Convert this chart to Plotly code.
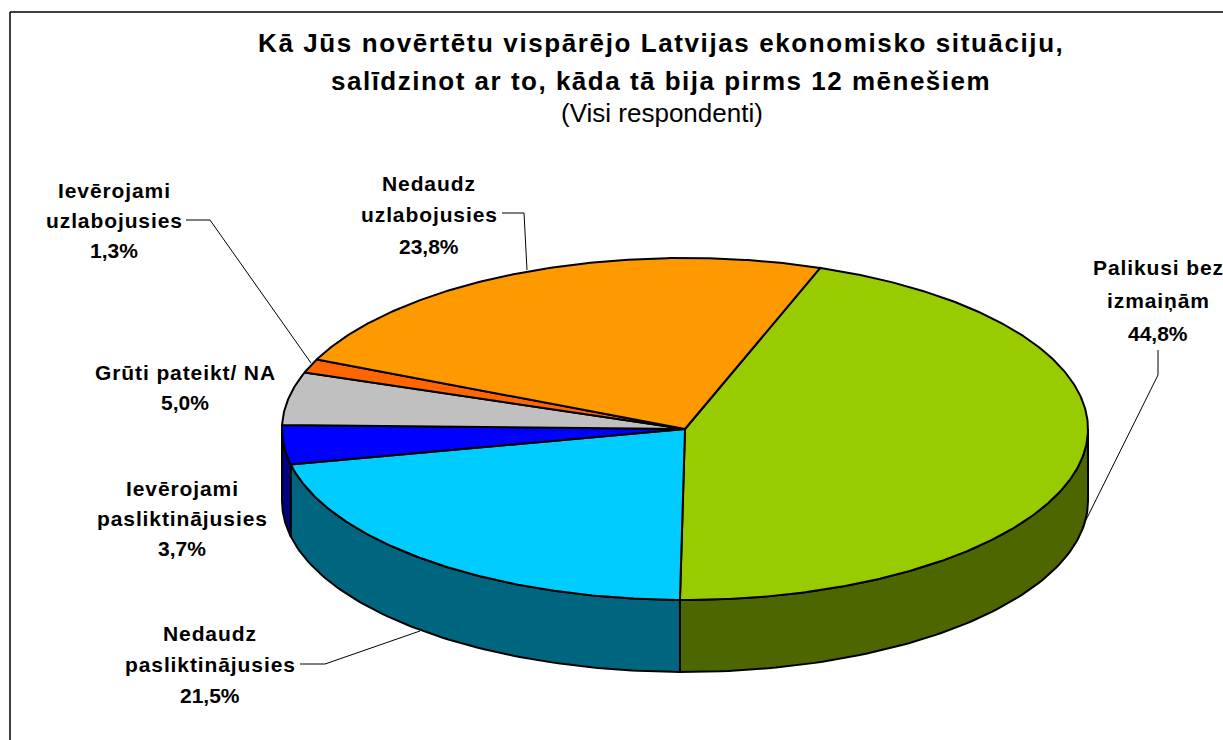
import numpy as np
import plotly.graph_objects as go

# Data, in drawing order (clockwise from the first slice)
categories = ["Palikusi bez izmaiņām", "Nedaudz pasliktinājusies", "Ievērojami pasliktinājusies",
              "Grūti pateikt/ NA", "Ievērojami uzlabojusies", "Nedaudz uzlabojusies"]
values = [44.8, 21.5, 3.7, 5.0, 1.3, 23.8]
top_colors = ["#99CC00", "#00CCFF", "#0000FF", "#C0C0C0", "#FF6600", "#FF9900"]
side_colors = ["#4D6600", "#006680", "#000080", "#606060", "#803300", "#804D00"]
label_lines = [["Palikusi bez", "izmaiņām", "44,8%"],
               ["Nedaudz", "pasliktinājusies", "21,5%"],
               ["Ievērojami", "pasliktinājusies", "3,7%"],
               ["Grūti pateikt/ NA", "5,0%"],
               ["Ievērojami", "uzlabojusies", "1,3%"],
               ["Nedaudz", "uzlabojusies", "23,8%"]]
title_lines = ["Kā Jūs novērtētu vispārējo Latvijas ekonomisko situāciju,",
               "salīdzinot ar to, kāda tā bija pirms 12 mēnešiem"]
subtitle = "(Visi respondenti)"

# Geometry of the projected pie (canvas pixels)
W, H = 1223, 740
CX, CY, RX, RY, DEPTH = 685, 429, 403, 171, 72
START_DEG = 19.6
label_centers = [(1158, [267, 300, 333]), (210, [633, 664, 695]), (182, [488, 518, 548]),
                 (185, [372, 402]), (114, [190, 220, 250]), (429, [183, 214, 246])]
leaders = [([1158, 1158, 1082], [350, 375, 528]),
           ([300, 325, 420], [664, 664, 631]),
           None,
           None,
           ([186, 210, 311], [220, 220, 363]),
           ([502, 524, 527], [213, 213, 270])]


def pt(deg, dy=0.0):
    t = np.radians(deg)
    return CX + RX * np.sin(t), CY - RY * np.cos(t) + dy


fig = go.Figure()
angles = START_DEG + np.concatenate([[0], np.cumsum(values)]) * 360.0 / sum(values)


def poly(xs, ys, fill):
    fig.add_trace(go.Scatter(x=list(xs), y=list(ys), mode="lines", fill="toself", fillcolor=fill,
                             line=dict(color="black", width=2), hoverinfo="skip", showlegend=False))


# Side walls: only the front half of the rim (90°..270° from the top) is visible
for i in range(len(values)):
    a, b = max(angles[i], 90), min(angles[i + 1], 270)
    if b <= a:
        continue
    ts = np.linspace(a, b, 80)
    x, y = pt(ts)
    x2, y2 = pt(ts[::-1], DEPTH)
    poly(np.r_[x, x2, x[0]], np.r_[y, y2, y[0]], side_colors[i])

# Top faces
for i in range(len(values)):
    ts = np.linspace(angles[i], angles[i + 1], max(3, int((angles[i + 1] - angles[i]) * 2)))
    x, y = pt(ts)
    poly(np.r_[CX, x, CX], np.r_[CY, y, CY], top_colors[i])

# Leader lines
for seg in leaders:
    if seg:
        fig.add_trace(go.Scatter(x=seg[0], y=seg[1], mode="lines", line=dict(color="black", width=1),
                                 hoverinfo="skip", showlegend=False))

FONT = "Liberation Sans, Arial, sans-serif"
ann = []


def text(x, y, s, size, bold=True, spacing=0.0):
    body = f"<b>{s}</b>" if bold else s
    if spacing:
        body = f'<span style="letter-spacing:{spacing}px">{body}</span>'
    ann.append(dict(x=x, y=y, xref="x", yref="y", text=body, showarrow=False,
                    xanchor="center", yanchor="middle", font=dict(family=FONT, size=size, color="black")))


text(661, 43, title_lines[0], 26, spacing=1.6)
text(661, 81, title_lines[1], 26, spacing=1.5)
text(662, 113, subtitle, 26, bold=False)
for lines, (cx, ys) in zip(label_lines, label_centers):
    for s, y in zip(lines, ys):
        text(cx, y, s, 21, spacing=0 if "%" in s else 0.9)

fig.update_layout(
    width=W, height=H, margin=dict(l=0, r=0, t=0, b=0), autosize=False,
    paper_bgcolor="white", plot_bgcolor="white", showlegend=False, annotations=ann,
    xaxis=dict(range=[0, W], visible=False, fixedrange=True),
    yaxis=dict(range=[H, 0], visible=False, fixedrange=True),
    shapes=[dict(type="line", x0=10, x1=10, y0=12, y1=H, xref="x", yref="y", line=dict(color="black", width=1.5)),
            dict(type="line", x0=10, x1=W, y0=12, y1=12, xref="x", yref="y", line=dict(color="black", width=1.5))],
)
fig.write_html("out.html", config=dict(displayModeBar=False),
               post_script="document.body.style.margin='0';document.documentElement.style.overflow='hidden';")
